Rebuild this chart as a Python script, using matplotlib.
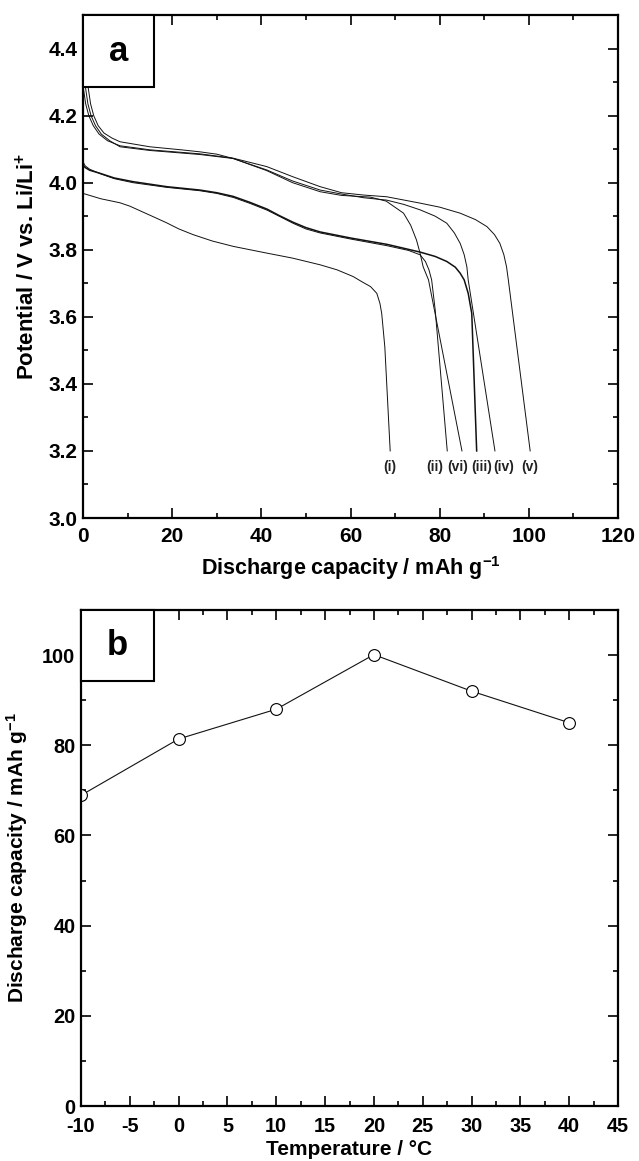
import matplotlib
matplotlib.use("Agg")
import matplotlib.pyplot as plt
from matplotlib.ticker import MultipleLocator, FormatStrFormatter
from matplotlib.patches import Rectangle

plt.rcParams['font.family'] = ['Liberation Sans', 'DejaVu Sans']
plt.rcParams['font.weight'] = 'bold'
plt.rcParams['axes.unicode_minus'] = False
plt.rcParams['mathtext.fontset'] = 'custom'
plt.rcParams['mathtext.rm'] = 'Liberation Sans:bold'
plt.rcParams['mathtext.it'] = 'Liberation Sans:bold'
plt.rcParams['mathtext.bf'] = 'Liberation Sans:bold'

# ---- Panel a data: discharge curves ----
cap_i = [0, 1.5, 4, 8.3, 10.5, 13, 16, 18.8, 21.5, 24.7, 29, 33.7, 41.2, 47, 53.2, 57, 60.6, 62.5, 64.5, 65.9, 66.6, 67.0, 67.7, 68.9]
volt_i = [3.968, 3.962, 3.952, 3.94, 3.93, 3.915, 3.897, 3.88, 3.862, 3.845, 3.826, 3.81, 3.79, 3.775, 3.755, 3.74, 3.72, 3.705, 3.69, 3.67, 3.64, 3.61, 3.51, 3.2]

cap_ii = [0, 0.5, 1.5, 3.8, 7, 11.2, 18.8, 26.2, 30, 33.7, 37.5, 41.3, 44, 47.1, 50, 53.2, 60, 68.2, 73, 75.6, 76.8, 77.6, 78.2, 79.0, 81.7]
volt_ii = [4.062, 4.05, 4.04, 4.027, 4.012, 4.0, 3.986, 3.976, 3.968, 3.956, 3.938, 3.918, 3.9, 3.879, 3.862, 3.85, 3.832, 3.812, 3.798, 3.785, 3.765, 3.74, 3.71, 3.62, 3.2]

cap_iii = [0, 0.5, 1.5, 3.8, 7, 11.2, 18.8, 26.2, 30, 33.7, 37.5, 41.3, 44, 47.1, 50, 53.2, 60, 68.2, 75.6, 79, 81.6, 83.5, 84.6, 85.5, 86.4, 87.2, 88.3]
volt_iii = [4.052, 4.045, 4.037, 4.028, 4.014, 4.003, 3.988, 3.978, 3.97, 3.959, 3.941, 3.921, 3.902, 3.882, 3.866, 3.853, 3.835, 3.816, 3.793, 3.78, 3.765, 3.748, 3.73, 3.71, 3.67, 3.61, 3.2]

cap_iv = [0, 0.6, 1.1, 1.8, 2.8, 4.1, 6, 8.3, 15, 26.2, 33.7, 41.2, 47, 53.2, 58, 63, 68.1, 72, 75.6, 79, 81.6, 83.3, 84.6, 85.5, 86.1, 86.4, 92.4]
volt_iv = [4.35, 4.28, 4.235, 4.2, 4.17, 4.145, 4.125, 4.107, 4.096, 4.084, 4.072, 4.038, 4.005, 3.978, 3.966, 3.955, 3.948, 3.935, 3.919, 3.9, 3.879, 3.85, 3.819, 3.785, 3.749, 3.71, 3.2]

cap_v = [0, 0.1, 0.6, 1.3, 2.3, 3.6, 5.5, 8.3, 15, 26.2, 33.7, 41.2, 47, 53.2, 58, 63, 68.1, 75.6, 80, 84.6, 88, 90.6, 92.3, 93.5, 94.4, 95.0, 95.4, 100.3]
volt_v = [4.34, 4.28, 4.235, 4.2, 4.17, 4.145, 4.125, 4.11, 4.098, 4.086, 4.073, 4.048, 4.018, 3.988, 3.97, 3.963, 3.958, 3.939, 3.927, 3.909, 3.89, 3.869, 3.845, 3.819, 3.785, 3.749, 3.71, 3.2]

cap_vi = [0, 1.2, 1.7, 2.4, 3.4, 4.7, 6.5, 8.3, 15, 22, 26.2, 30, 33.7, 41.2, 47, 53.2, 58, 64.4, 68, 71.9, 73.5, 74.8, 75.6, 76.3, 77.5, 85.0]
volt_vi = [4.36, 4.28, 4.235, 4.2, 4.17, 4.148, 4.133, 4.122, 4.107, 4.098, 4.092, 4.085, 4.072, 4.036, 4.0, 3.973, 3.962, 3.957, 3.945, 3.909, 3.873, 3.829, 3.79, 3.749, 3.71, 3.2]

curve_labels = ['(i)', '(ii)', '(vi)', '(iii)', '(iv)', '(v)']
curve_label_x = [68.9, 79.0, 84.0, 89.5, 94.3, 100.3]
curve_label_y = 3.152

# ---- Panel b data ----
temperature = [-10, 0, 10, 20, 30, 40]
capacity = [68.9, 81.4, 88.0, 100.1, 92.0, 85.0]

W, H = 639, 1161
fig = plt.figure(figsize=(W / 100, H / 100), dpi=100)

def frac_axes(l, t, r, b):
    return fig.add_axes([l / W, 1 - b / H, (r - l) / W, (b - t) / H])

def style(ax, fs, xpad):
    for s in ax.spines.values():
        s.set_linewidth(1.6)
    ax.tick_params(which='both', direction='in', top=True, right=True, width=1.2,
                   labelsize=fs)
    ax.tick_params(which='major', length=7)
    ax.tick_params(which='minor', length=3.8)
    ax.tick_params(axis='x', which='both', pad=xpad)
    ax.tick_params(axis='y', which='both', pad=4)
    for lab in ax.get_xticklabels() + ax.get_yticklabels():
        lab.set_fontweight('bold')

# Panel a
ax1 = frac_axes(83, 15, 618, 518)
series = [(cap_i, volt_i, 0.7), (cap_ii, volt_ii, 0.7), (cap_iii, volt_iii, 1.1),
          (cap_iv, volt_iv, 0.7), (cap_v, volt_v, 0.7), (cap_vi, volt_vi, 0.7)]
for cx, vy, lw in series:
    ax1.plot(cx, vy, color='#111111', lw=lw)
ax1.set_xlim(0, 120)
ax1.set_ylim(3.0, 4.5)
ax1.xaxis.set_major_locator(MultipleLocator(20))
ax1.xaxis.set_minor_locator(MultipleLocator(10))
ax1.yaxis.set_major_locator(MultipleLocator(0.2))
ax1.yaxis.set_minor_locator(MultipleLocator(0.1))
ax1.yaxis.set_major_formatter(FormatStrFormatter('%.1f'))
style(ax1, 15, 6.5)
for lab, lx in zip(curve_labels, curve_label_x):
    ax1.text(lx, curve_label_y, lab, ha='center', va='center', fontsize=10,
             fontweight='bold', color='#222222')
ax1.set_xlabel('Discharge capacity / mAh g$^{-1}$', fontsize=15.5, fontweight='bold', labelpad=6)
ax1.set_ylabel('Potential / V vs. Li/Li$^{+}$', fontsize=16, fontweight='bold', labelpad=7)
ax1.add_patch(Rectangle((0, 4.285), 16, 0.215, facecolor='white', edgecolor='black',
                        lw=1.5, zorder=5, clip_on=False))
ax1.text(8, 4.39, 'a', ha='center', va='center', fontsize=25, fontweight='bold', zorder=6)

# Panel b
ax2 = frac_axes(81, 610, 618, 1106)
ax2.plot(temperature, capacity, color='#111111', lw=0.8, marker='o', markersize=8.5,
         markerfacecolor='white', markeredgecolor='black', markeredgewidth=0.8)
ax2.set_xlim(-10, 45)
ax2.set_ylim(0, 110)
ax2.xaxis.set_major_locator(MultipleLocator(5))
ax2.xaxis.set_minor_locator(MultipleLocator(2.5))
ax2.yaxis.set_major_locator(MultipleLocator(20))
ax2.yaxis.set_minor_locator(MultipleLocator(10))
style(ax2, 14.3, 8)
ax2.set_xlabel('Temperature / °C', fontsize=15, fontweight='bold', labelpad=3)
ax2.set_ylabel('Discharge capacity / mAh g$^{-1}$', fontsize=15, fontweight='bold', labelpad=9)
ax2.add_patch(Rectangle((-10, 94.3), 7.5, 15.7, facecolor='white', edgecolor='black',
                        lw=1.5, zorder=5, clip_on=False))
ax2.text(-6.25, 102.2, 'b', ha='center', va='center', fontsize=25, fontweight='bold', zorder=6)

fig.savefig('out.png', dpi=100)
